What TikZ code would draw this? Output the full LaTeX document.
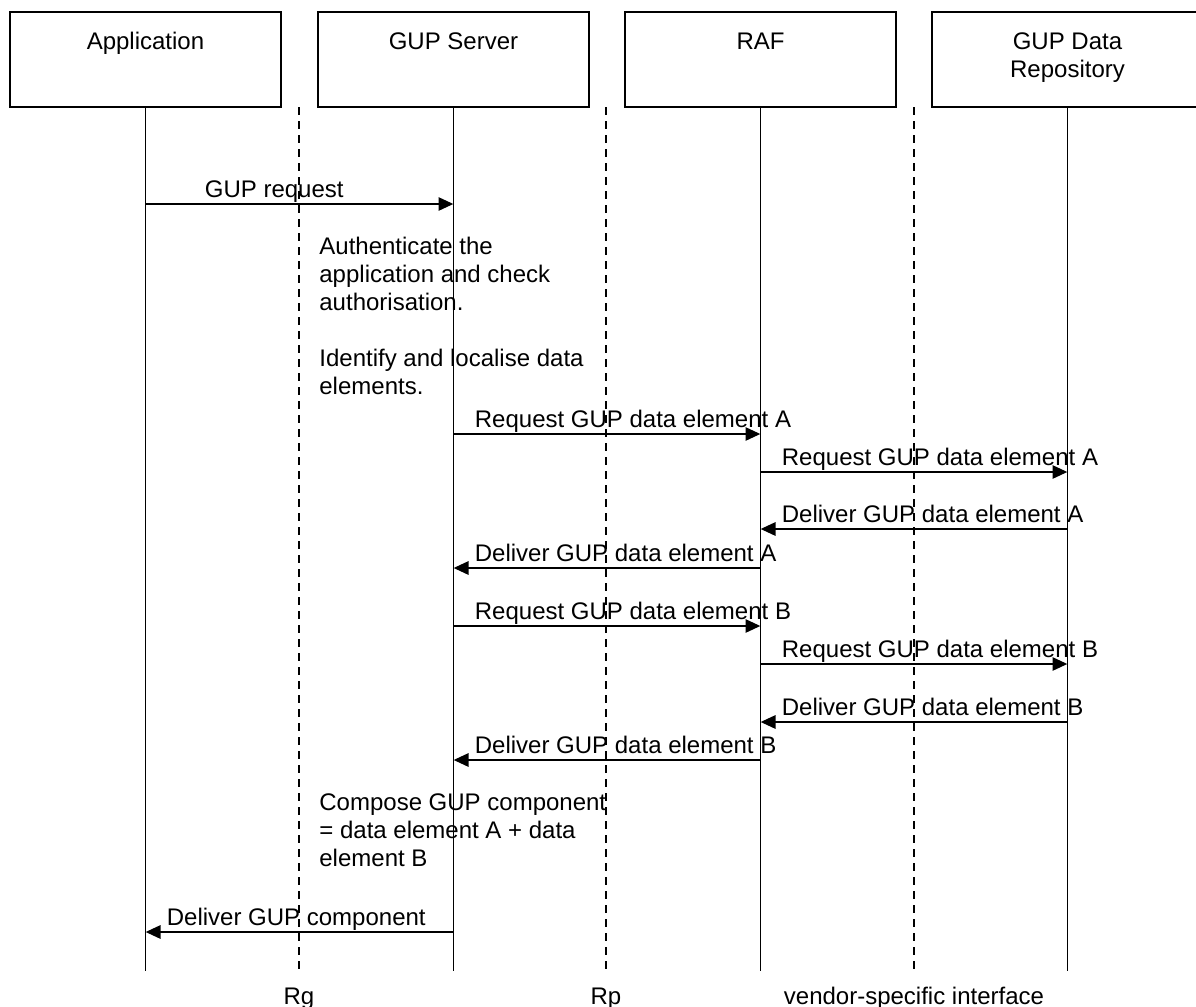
\documentclass[tikz,border=0pt]{standalone}
\usepackage{fontspec}
\setmainfont{Liberation Sans}
\usetikzlibrary{arrows.meta}

\tikzstyle{entity}=[draw, line width=0.9pt, minimum width=135.5pt, minimum height=47.5pt, inner sep=0]
\tikzstyle{boxlbl}=[anchor=north, yshift=-10.5pt, inner sep=0, align=center]
\tikzstyle{life}=[line width=0.8pt]
\tikzstyle{iface}=[line width=0.7pt, dash pattern=on 4pt off 3pt]
\tikzstyle{msg}=[line width=1.4pt, -{Triangle[length=7.5pt, width=6.5pt]}]
\tikzstyle{lbl}=[anchor=base west, inner sep=0, xshift=10pt, yshift=3.5pt]
\tikzstyle{note}=[anchor=north west, inner sep=0, align=left]

\begin{document}
\begin{tikzpicture}[x=0.5pt, y=-0.5pt, font=\fontsize{12pt}{14pt}\selectfont]
      \useasboundingbox (0, 0) rectangle (1196, 1007);
      \clip (0, 0) rectangle (1196, 1007);

      \node[entity, label={[boxlbl]north:Application}] (app) at (145.5, 59.5) {};
      \node[entity, label={[boxlbl]north:GUP Server}] (gup) at (453.5, 59.5) {};
      \node[entity, label={[boxlbl]north:RAF}] (raf) at (760.5, 59.5) {};
      \node[entity, label={[boxlbl]north:GUP Data\\Repository}] (repo) at (1067.5, 59.5) {};

      \coordinate (bot) at (0, 971);
      \draw[life] (app.south) -- (app.south |- bot);
      \draw[life] (gup.south) -- (gup.south |- bot);
      \draw[life] (raf.south) -- (raf.south |- bot);
      \draw[life] (repo.south) -- (repo.south |- bot);

      % reference points
      \coordinate (rg) at (299, 107);
      \coordinate (rp) at (606, 107);
      \coordinate (vs) at (914, 107);
      \draw[iface] (rg) -- (rg |- bot);
      \draw[iface] (rp) -- (rp |- bot);
      \draw[iface] (vs) -- (vs |- bot);
      \node[anchor=base, inner sep=0] (rglbl) at (299, 1004) {Rg};
      \node[anchor=base, inner sep=0] (rplbl) at (606, 1004) {Rp};
      \node[anchor=base, inner sep=0] (vslbl) at (914, 1004) {vendor-specific interface};

      \coordinate (m1) at (0, 204);
      \coordinate (m2) at (0, 434);
      \coordinate (m3) at (0, 472);
      \coordinate (m4) at (0, 529);
      \coordinate (m5) at (0, 568);
      \coordinate (m6) at (0, 626);
      \coordinate (m7) at (0, 664);
      \coordinate (m8) at (0, 722);
      \coordinate (m9) at (0, 760);
      \coordinate (m10) at (0, 932);

      \draw[msg] (app |- m1) node[lbl, xshift=19pt] {GUP request} -- (gup |- m1);
      \node[note] (auth) at (319, 237) {Authenticate the\\application and check\\authorisation.\\[14pt]Identify and localise data\\elements.};

      \draw[msg] (gup |- m2) node[lbl] {Request GUP data element A} -- (raf |- m2);
      \draw[msg] (raf |- m3) node[lbl] {Request GUP data element A} -- (repo |- m3);
      \draw[msg] (repo |- m4) -- (raf |- m4) node[lbl] {Deliver GUP data element A};
      \draw[msg] (raf |- m5) -- (gup |- m5) node[lbl] {Deliver GUP data element A};

      \draw[msg] (gup |- m6) node[lbl] {Request GUP data element B} -- (raf |- m6);
      \draw[msg] (raf |- m7) node[lbl] {Request GUP data element B} -- (repo |- m7);
      \draw[msg] (repo |- m8) -- (raf |- m8) node[lbl] {Deliver GUP data element B};
      \draw[msg] (raf |- m9) -- (gup |- m9) node[lbl] {Deliver GUP data element B};

      \node[note] (compose) at (319, 793) {Compose GUP component\\= data element A + data\\element B};
      \draw[msg] (gup |- m10) -- (app |- m10) node[lbl] {Deliver GUP component};
    \end{tikzpicture}
\end{document}
